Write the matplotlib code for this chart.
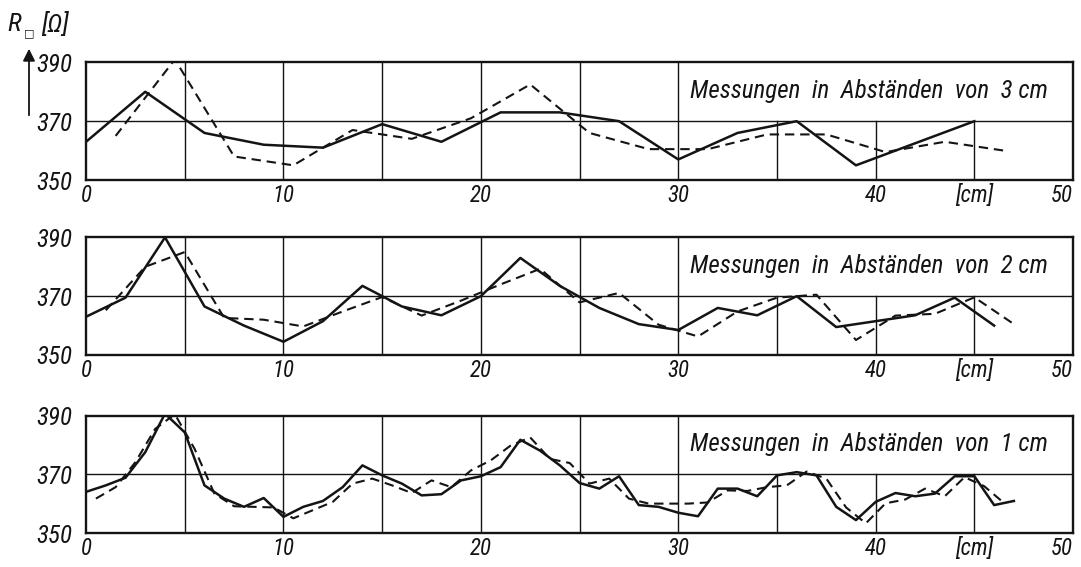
import numpy as np
import matplotlib
matplotlib.use('Agg')
import matplotlib.pyplot as plt

plt.rcParams['font.family'] = ['Roboto Condensed', 'Liberation Sans', 'DejaVu Sans']
plt.rcParams['font.style'] = 'italic'

# measurement positions [cm] and sheet resistance [Ohm]
x_3cm = np.arange(0, 46, 3)
r_3cm_solid = [363, 380, 366, 362, 361, 369, 363, 373, 373, 370, 357, 366, 370, 355, 362.5, 370]
x_3cm_d = np.arange(1.5, 47, 3)
r_3cm_dash = [365, 391, 358, 355, 367, 364, 371, 382.5, 366, 360.5, 360.5, 365.5, 365.5, 359.5, 363, 360]

x_2cm = np.arange(0, 47, 2)
r_2cm_solid = [363, 369.5, 390, 366.5, 360, 354.5, 361.5, 373.5, 366.5, 363.5, 370, 383,
               373.5, 366, 360.5, 358.5, 366, 363.5, 370, 359.5, 361.5, 363.5, 369.5, 360]
x_2cm_d = np.arange(1, 48, 2)
r_2cm_dash = [365.2, 380, 385, 362.6, 362, 359.7, 364.8, 369.7, 363.4, 368.5, 374, 379.3,
              367.9, 371.1, 360.3, 356.3, 364.8, 369.5, 370.5, 355.1, 363.4, 364, 369.6, 360.5]

x_1cm = np.arange(0, 48, 1)
r_1cm_solid = [364.1, 366.3, 368.9, 377.6, 390.7, 384.3, 366.3, 361.8, 359, 362,
               355.6, 359, 361, 365.7, 373.1, 369.7, 366.9, 362.9, 363.3, 368,
               369.4, 372.5, 381.8, 378.1, 373.1, 367.1, 365.2, 369.4, 359.6, 359,
               357, 355.8, 365.2, 365.2, 362.6, 369.7, 370.8, 369.7, 359, 354.5,
               360.7, 363.7, 362.6, 363.5, 369.4, 369.4, 359.6, 361]
x_1cm_d = np.arange(0.5, 47, 1)
r_1cm_dash = [361.8, 365.7, 374.2, 385.5, 390.5, 378.7, 363.5, 359.2, 359, 358.8,
              355.1, 357.9, 360.7, 366.9, 368.6, 366.3, 363.7, 368, 365.7, 371.4,
              374.8, 379.8, 382.6, 375.3, 373.9, 366.9, 368.6, 361.8, 360.1, 360.1,
              360.1, 360.5, 364.6, 364.4, 365.7, 366.3, 371, 368.6, 358.8, 353.4,
              360.2, 361.5, 365.2, 362.6, 369.1, 366, 360.3]

labels = ['Messungen  in  Abständen  von  3 cm',
          'Messungen  in  Abständen  von  2 cm',
          'Messungen  in  Abständen  von  1 cm']
xticks = [0, 10, 20, 30, 40, 45, 50]
xticklabels = ['0', '10', '20', '30', '40', '[cm]', '50']
yticks = [350, 370, 390]
grid_x = [5, 10, 15, 20, 25, 30, 35, 40, 45]

panels = [(x_3cm, r_3cm_solid, x_3cm_d, r_3cm_dash),
          (x_2cm, r_2cm_solid, x_2cm_d, r_2cm_dash),
          (x_1cm, r_1cm_solid, x_1cm_d, r_1cm_dash)]
bottoms = [0.6825, 0.3739, 0.0594]

ink = '#141414'
fig = plt.figure(figsize=(10.81, 5.67), dpi=100)

for i in range(3):
    ax = fig.add_axes([0.0796, bottoms[i], 0.9131, 0.2075])
    xs, ys, xd, yd = panels[i]
    ax.set_xlim(0, 50)
    ax.set_ylim(350, 390)

    for g in grid_x:
        ax.axvline(g, ymax=0.5 if g > 30 else 1, color=ink, lw=1.0, zorder=1)
    ax.axhline(370, color=ink, lw=1.0, zorder=1)

    ax.plot(xs, ys, color=ink, lw=1.8, zorder=3)
    ax.plot(xd, yd, color=ink, lw=1.5, dashes=(4.5, 2.8), zorder=3)

    ax.text(30.6, 380.3, labels[i], fontsize=18, ha='left', va='center', color=ink)

    ax.set_xticks(xticks)
    ax.set_xticklabels(xticklabels)
    ax.set_yticks(yticks)
    ax.tick_params(axis='both', length=0, colors=ink)
    ax.tick_params(axis='x', labelsize=16.5, pad=3)
    ax.tick_params(axis='y', labelsize=18, pad=10)
    ax.get_xticklabels()[-1].set_horizontalalignment('right')
    for s in ax.spines.values():
        s.set_linewidth(1.7)
        s.set_color(ink)

# y axis caption with arrow
fig.text(7 / 1081, 1 - 24 / 567, 'R', fontsize=19, ha='left', va='center', color=ink)
fig.text(24 / 1081, 1 - 33 / 567, '□', fontsize=8, ha='left', va='center', color=ink,
         family=['DejaVu Sans'], fontweight='bold')
fig.text(41 / 1081, 1 - 24 / 567, '[Ω]', fontsize=19, ha='left', va='center', color=ink)
plt.annotate('', xy=(29, 567 - 46), xytext=(29, 567 - 118), xycoords='figure pixels',
             textcoords='figure pixels',
             arrowprops=dict(arrowstyle='-|>', color=ink, lw=1.3, mutation_scale=18))

plt.savefig('out.png', dpi=100)
